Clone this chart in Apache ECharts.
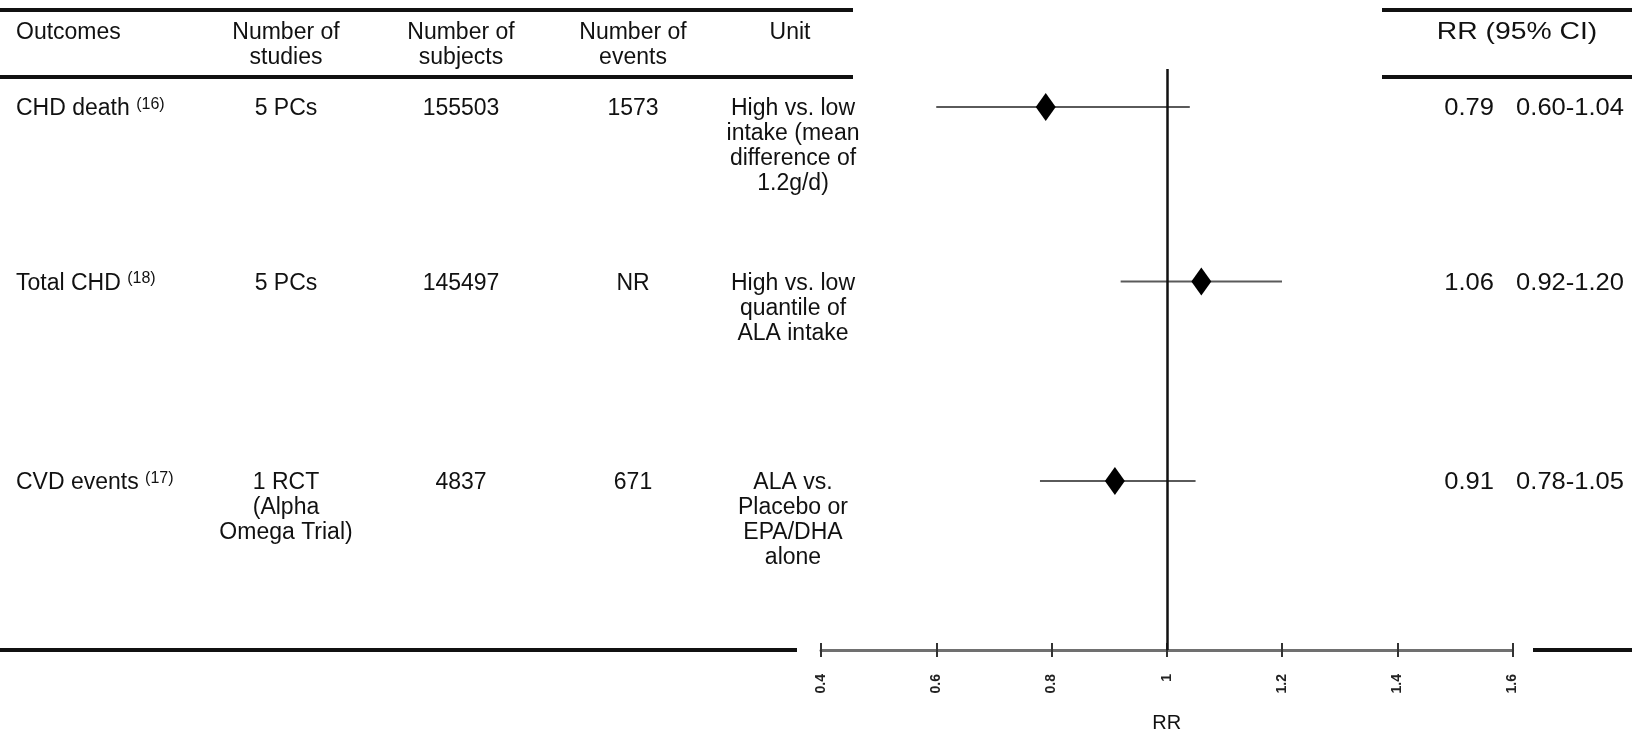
<!DOCTYPE html>
<html>
<head>
<meta charset="utf-8">
<script src="https://cdn.jsdelivr.net/npm/echarts@6/dist/echarts.min.js"></script>
<style>
html,body{margin:0;padding:0;background:#fff;overflow:hidden;}
#chart{width:1632px;height:735px;}
</style>
</head>
<body>
<div id="chart"></div>
<script>
// ---------------- DATA ----------------
const outcomes = ['CHD death', 'Total CHD', 'CVD events'];
const refs = ['(16)', '(18)', '(17)'];
const studies = ['5 PCs', '5 PCs', '1 RCT\n(Alpha\nOmega Trial)'];
const subjects = ['155503', '145497', '4837'];
const events = ['1573', 'NR', '671'];
const units = [
  'High vs. low\nintake (mean\ndifference of\n1.2g/d)',
  'High vs. low\nquantile of\nALA intake',
  'ALA vs.\nPlacebo or\nEPA/DHA\nalone'
];
const rr = [0.79, 1.06, 0.91];
const ciLow = [0.60, 0.92, 0.78];
const ciHigh = [1.04, 1.20, 1.05];
const headers = ['Outcomes', 'Number of\nstudies', 'Number of\nsubjects', 'Number of\nevents', 'Unit'];
const rrHeader = 'RR (95% CI)';
const xTicks = [0.4, 0.6, 0.8, 1.0, 1.2, 1.4, 1.6];
const axisName = 'RR';

// ---------------- LAYOUT ----------------
const FONT = '"Liberation Sans", Arial, Helvetica, sans-serif';
const TXT = '#111';
const FS = 23;
const LH = 25;
const TEXT_DY = 2;
const GRID_LEFT = 821, GRID_RIGHT = 119.5, GRID_TOP = 69, AXIS_Y = 650, H = 735;
const ROW1_Y = 107, ROW_UNIT = 24.93;
const ROW_SLOTS = [0, 7, 15];
const COL = {outcome: 16, studies: 286, subjects: 461, events: 633, unit: 793, rr: 1494, ci: 1624};
const yMin = -(ROW1_Y - GRID_TOP) / ROW_UNIT;
const yMax = (AXIS_Y - ROW1_Y) / ROW_UNIT;

const rows = outcomes.map((o, i) => [rr[i], ROW_SLOTS[i], ciLow[i], ciHigh[i], i]);

function txt(x, y, text, align, extra, fs) {
  return Object.assign({
    type: 'text', x: x, y: y,
    style: {text: text, fill: TXT, font: (fs || FS) + 'px ' + FONT, align: align || 'center', verticalAlign: 'top', lineHeight: LH}
  }, extra || {});
}

const chart = echarts.init(document.getElementById('chart'), null, {renderer: 'canvas', width: 1632, height: 735});

const option = {
  backgroundColor: '#fff',
  animation: false,
  grid: {left: GRID_LEFT, right: GRID_RIGHT, top: GRID_TOP, bottom: H - AXIS_Y, containLabel: false, outerBoundsMode: 'none'},
  xAxis: [{
    type: 'value', min: xTicks[0], max: xTicks[xTicks.length - 1], interval: 0.2,
    splitLine: {show: false},
    axisLine: {show: true, onZero: false, lineStyle: {color: '#707070', width: 3}},
    axisTick: {show: true, length: 7, lineStyle: {color: '#333', width: 2}},
    axisLabel: {rotate: 90, fontSize: 14, fontWeight: 'bold', color: '#222', fontFamily: FONT, margin: 24,
      formatter: v => String(Math.round(v * 10) / 10)},
    name: axisName, nameLocation: 'middle', nameGap: 63,
    nameTextStyle: {fontSize: 20, color: TXT, fontFamily: FONT}
  }, {
    type: 'value', min: xTicks[0], max: xTicks[xTicks.length - 1], interval: 0.2, position: 'bottom',
    splitLine: {show: false}, axisLine: {show: false, onZero: false},
    axisTick: {show: true, inside: true, length: 7, lineStyle: {color: '#333', width: 2}},
    axisLabel: {show: false}
  }],
  yAxis: {type: 'value', inverse: true, min: yMin, max: yMax, show: false},
  graphic: [
    // rules
    {type: 'line', shape: {x1: 0, y1: 10, x2: 853, y2: 10}, style: {stroke: '#111', lineWidth: 4}},
    {type: 'line', shape: {x1: 1382, y1: 10, x2: 1632, y2: 10}, style: {stroke: '#111', lineWidth: 4}},
    {type: 'line', shape: {x1: 0, y1: 77, x2: 853, y2: 77}, style: {stroke: '#111', lineWidth: 4}},
    {type: 'line', shape: {x1: 1382, y1: 77, x2: 1632, y2: 77}, style: {stroke: '#111', lineWidth: 4}},
    {type: 'line', shape: {x1: 0, y1: AXIS_Y, x2: 797, y2: AXIS_Y}, style: {stroke: '#111', lineWidth: 4}},
    {type: 'line', shape: {x1: 1533, y1: AXIS_Y, x2: 1632, y2: AXIS_Y}, style: {stroke: '#111', lineWidth: 4}},
    // headers
    txt(COL.outcome, 20, headers[0], 'left'),
    txt(COL.studies, 20, headers[1]),
    txt(COL.subjects, 20, headers[2]),
    txt(COL.events, 20, headers[3]),
    txt(COL.unit - 3, 20, headers[4]),
    txt(1517, 20, rrHeader, 'center', {scaleX: 1.18}, 24)
  ],
  series: [
    {
      // table text per row
      type: 'custom', xAxisIndex: 0, clip: false, silent: true, z: 5,
      data: rows,
      renderItem: function (params, api) {
        const i = api.value(4);
        const y = api.coord([xTicks[0], api.value(1)])[1] - LH / 2 + TEXT_DY;
        return {
          type: 'group',
          children: [
            {type: 'text', x: COL.outcome, y: y, style: {
              text: '{a|' + outcomes[i] + ' }{s|' + refs[i] + '}',
              rich: {a: {fontSize: FS, fontFamily: FONT, fill: TXT, color: TXT, lineHeight: LH},
                     s: {fontSize: 16, fontFamily: FONT, fill: TXT, color: TXT, verticalAlign: 'top', lineHeight: LH, padding: [0, 0, 12, 0]}},
              align: 'left', verticalAlign: 'top'}},
            txt(COL.studies, y, studies[i]),
            txt(COL.subjects, y, subjects[i]),
            txt(COL.events, y, events[i]),
            txt(COL.unit, y, units[i]),
            txt(COL.rr, y, rr[i].toFixed(2), 'right', {scaleX: 1.11}, 23),
            txt(COL.ci, y, ciLow[i].toFixed(2) + '-' + ciHigh[i].toFixed(2), 'right', {scaleX: 1.11}, 23)
          ]
        };
      }
    },
    {
      // confidence intervals
      type: 'custom', clip: false, z: 3,
      data: rows,
      renderItem: function (params, api) {
        const a = api.coord([api.value(2), api.value(1)]);
        const b = api.coord([api.value(3), api.value(1)]);
        return {type: 'line', shape: {x1: a[0], y1: a[1], x2: b[0], y2: b[1]},
          style: {stroke: '#5a5a5a', lineWidth: 2}};
      },
      markLine: {
        silent: true, symbol: 'none', label: {show: false},
        lineStyle: {color: '#111', width: 2.5, type: 'solid'},
        data: [{xAxis: 1}]
      }
    },
    {
      type: 'scatter', symbol: 'diamond', symbolSize: [20, 28], z: 6,
      itemStyle: {color: '#000', opacity: 1},
      data: rows.map(r => [r[0], r[1]])
    }
  ]
};
chart.setOption(option);
</script>
</body>
</html>
